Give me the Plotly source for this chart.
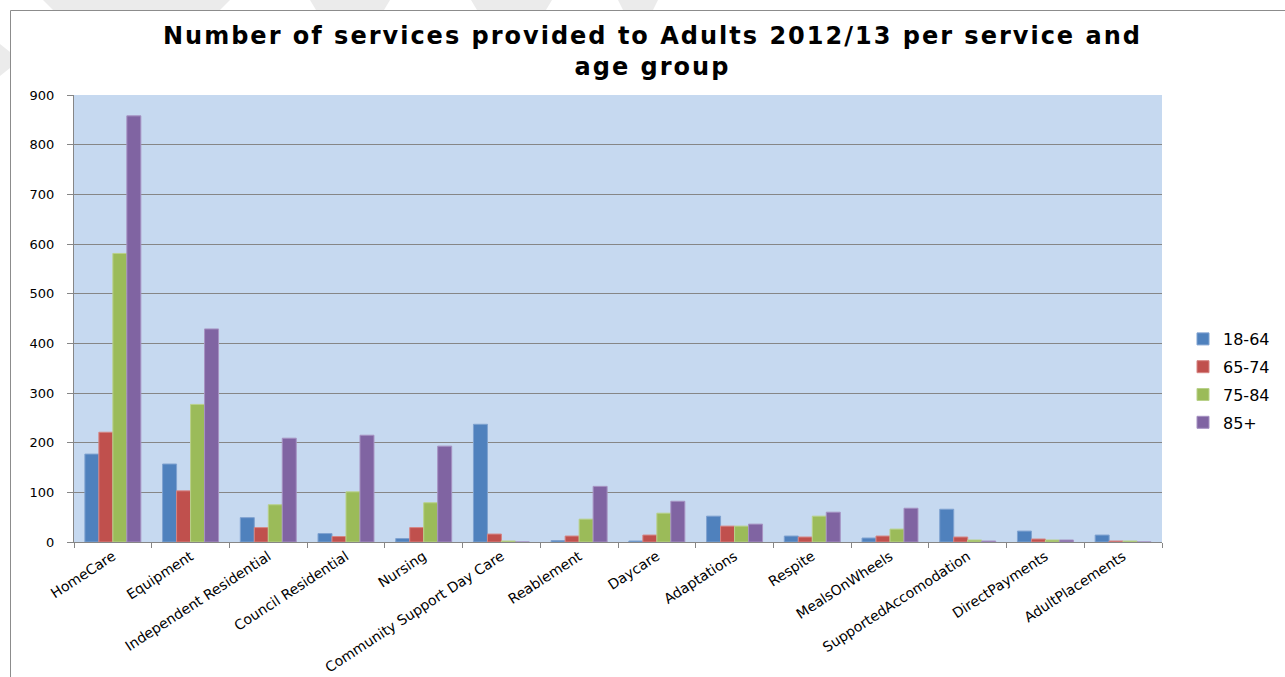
import plotly.graph_objects as go

# Service categories and counts per age group
categories = [
    "HomeCare", "Equipment", "Independent Residential", "Council Residential",
    "Nursing", "Community Support Day Care", "Reablement", "Daycare",
    "Adaptations", "Respite", "MealsOnWheels", "SupportedAccomodation",
    "DirectPayments", "AdultPlacements",
]
age_groups = ["18-64", "65-74", "75-84", "85+"]
age_18_64 = [177, 157, 49, 17, 7, 237, 3, 2, 52, 12, 8, 66, 22, 14]
age_65_74 = [221, 103, 29, 11, 29, 16, 12, 14, 32, 10, 12, 10, 6, 2]
age_75_84 = [581, 277, 75, 101, 79, 2, 46, 58, 32, 52, 26, 4, 4, 2]
age_85_plus = [858, 429, 209, 215, 193, 0, 112, 82, 36, 60, 68, 2, 4, 0]
y_ticks = [0, 100, 200, 300, 400, 500, 600, 700, 800, 900]

series = [age_18_64, age_65_74, age_75_84, age_85_plus]
fill_colors = ["#4F81BD", "#C0504D", "#9BBB59", "#8064A2"]
edge_colors = ["#7FA2D0", "#D68583", "#B9D18A", "#A692C2"]

W, H = 1285, 677
PL, PR, PT, PB = 74, 1162, 95, 542


def px_x(px):
    return (px - PL) / (PR - PL)


def px_y(py):
    return (PB - py) / (PB - PT)


fig = go.Figure()
for name, vals, fc, ec in zip(age_groups, series, fill_colors, edge_colors):
    fig.add_trace(go.Bar(
        x=categories, y=vals, name=name, legendgroup=name,
        marker=dict(color=fc, line=dict(color=ec, width=1)),
    ))

# chart-area frame
shapes = [dict(
    type="rect", xref="paper", yref="paper",
    x0=px_x(10.5), x1=px_x(1300), y0=px_y(700), y1=px_y(10.5),
    line=dict(color="#8C8C8C", width=1), fillcolor="rgba(0,0,0,0)", layer="below",
)]

# faint diagonal background bands outside the frame
bands = [((43, 0), (230, 0), (220, 10), (53, 10)),
         ((310, 0), (390, 0), (384, 10), (316, 10)),
         ((471, 0), (552, 0), (546, 10), (477, 10)),
         ((618, 0), (658, 0), (653, 10), (623, 10)),
         ((0, 44), (10, 52), (10, 68), (0, 76))]
for poly in bands:
    path = "M " + " L ".join(f"{px_x(x):.5f},{px_y(y):.5f}" for x, y in poly) + " Z"
    shapes.append(dict(type="path", xref="paper", yref="paper", path=path,
                       fillcolor="#EBEBEB", line=dict(width=0), layer="below"))

title_text = ("<span style='letter-spacing:2px'>Number of services provided to "
              "Adults 2012/13 per service and</span><br>"
              "<span style='letter-spacing:2px'>age group</span>")

fig.update_layout(
    width=W, height=H,
    margin=dict(l=PL, r=W - PR, t=PT, b=H - PB, autoexpand=False),
    paper_bgcolor="white",
    plot_bgcolor="#C6D9F0",
    barmode="group", bargap=0.28, bargroupgap=0,
    font=dict(family="DejaVu Sans", color="#000000"),
    shapes=shapes,
    showlegend=True,
    legend=dict(
        x=px_x(1183), xanchor="left", y=px_y(381), yanchor="middle",
        font=dict(family="DejaVu Sans", size=16, color="#000000"),
        tracegroupgap=4, bgcolor="rgba(0,0,0,0)",
    ),
    annotations=[dict(
        text=title_text,
        xref="paper", yref="paper", x=px_x(652), y=px_y(20),
        xanchor="center", yanchor="top", showarrow=False, align="center",
        font=dict(family="DejaVu Sans", size=24, color="#000000", weight="bold"),
    )],
)

fig.update_xaxes(
    showline=True, linecolor="#868686", linewidth=1,
    ticks="outside", ticklen=5, tickcolor="#868686", tickson="boundaries",
    tickangle=-33, tickfont=dict(family="DejaVu Sans", size=14, color="#000000"),
    showgrid=False,
)
fig.update_yaxes(
    range=[0, 900], tickvals=y_ticks,
    showline=True, linecolor="#868686", linewidth=1,
    ticks="outside", ticklen=6, tickcolor="#868686",
    tickfont=dict(family="DejaVu Sans", size=13, color="#000000"),
    ticklabelstandoff=10,
    showgrid=True, gridcolor="#868686", gridwidth=1, zeroline=False,
)

fig.write_html("out.html")
